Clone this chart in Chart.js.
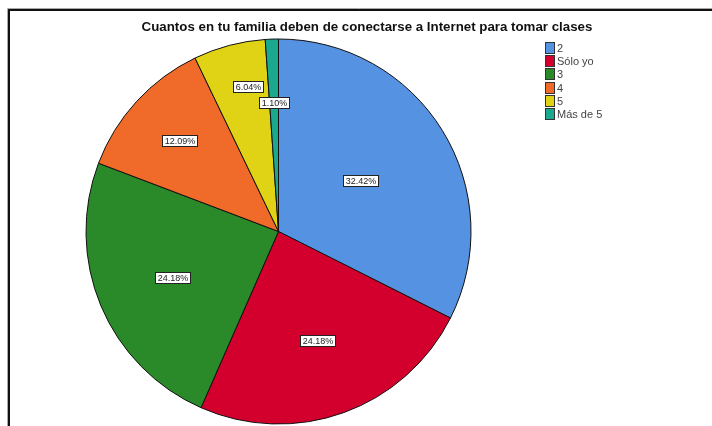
<!DOCTYPE html>
<html>
<head>
<meta charset="utf-8">
<script src="https://cdn.jsdelivr.net/npm/chart.js@4/dist/chart.umd.min.js"></script>
<style>
  html, body { margin: 0; padding: 0; background: #fff; }
  #wrap { width: 712px; height: 426px; position: relative; }
</style>
</head>
<body>
<div id="wrap"><canvas id="c" width="712" height="426"></canvas></div>
<script>
// Survey answers: how many family members need Internet for classes
const chartTitle = 'Cuantos en tu familia deben de conectarse a Internet para tomar clases';
const categories = ['2', 'Sólo yo', '3', '4', '5', 'Más de 5'];
const percents = [32.42, 24.18, 24.18, 12.09, 6.04, 1.10];

// Slice fills
const sliceColors = ['#5592e2', '#d3002e', '#2a8a2a', '#f06a2a', '#e0d214', '#1aa98f'];
// Where each value label sits: distance out (fraction of radius)
// and position across the slice (0 = start edge, 0.5 = middle, 1 = end edge)
const labelRadius = [0.50, 0.60, 0.60, 0.70, 0.77, 0.67];
const labelSweep = [0.5, 0.5, 0.49, 0.5, 0.64, 0.5];

const framePlugin = {
  id: 'frame',
  beforeDraw(chart) {
    const ctx = chart.ctx;
    ctx.save();
    ctx.fillStyle = '#fff';
    ctx.fillRect(0, 0, chart.width, chart.height);
    ctx.strokeStyle = '#aaa';
    ctx.lineWidth = 1;
    ctx.beginPath();
    ctx.moveTo(7.5, chart.height);
    ctx.lineTo(7.5, 8.5);
    ctx.lineTo(chart.width, 8.5);
    ctx.stroke();
    ctx.strokeStyle = '#111';
    ctx.lineWidth = 2;
    ctx.beginPath();
    ctx.moveTo(9, chart.height);
    ctx.lineTo(9, 10);
    ctx.lineTo(chart.width, 10);
    ctx.stroke();
    ctx.restore();
  }
};

const decorPlugin = {
  id: 'decor',
  afterDraw(chart) {
    const ctx = chart.ctx;
    ctx.save();

    // title
    ctx.fillStyle = '#111';
    ctx.font = 'bold 13.3px "Liberation Sans", Arial, sans-serif';
    ctx.textAlign = 'center';
    ctx.textBaseline = 'middle';
    ctx.fillText(chartTitle, 367, 27);

    // legend
    ctx.font = '11px "Liberation Sans", Arial, sans-serif';
    ctx.textAlign = 'left';
    categories.forEach((cat, i) => {
      const y = Math.round(48 + i * 13.2);
      ctx.fillStyle = sliceColors[i];
      ctx.fillRect(545, y - 6, 10, 12);
      ctx.strokeStyle = '#333';
      ctx.lineWidth = 1;
      ctx.strokeRect(545.5, y - 5.5, 9, 11);
      ctx.fillStyle = '#444';
      ctx.fillText(cat, 557, y + 0.5);
    });

    // value labels
    const meta = chart.getDatasetMeta(0);
    ctx.font = '9px "Liberation Sans", Arial, sans-serif';
    ctx.textAlign = 'center';
    meta.data.forEach((arc, i) => {
      const p = arc.getProps(['x', 'y', 'startAngle', 'endAngle', 'outerRadius'], true);
      const ang = p.startAngle + (p.endAngle - p.startAngle) * labelSweep[i];
      const r = p.outerRadius * labelRadius[i];
      const lx = p.x + Math.cos(ang) * r;
      const ly = p.y + Math.sin(ang) * r;
      const txt = percents[i].toFixed(2) + '%';
      const w = Math.ceil(ctx.measureText(txt).width) + 4;
      const h = 11;
      const bx = Math.round(lx - w / 2) + 0.5;
      const by = Math.round(ly - h / 2) + 0.5;
      ctx.fillStyle = '#fff';
      ctx.fillRect(bx, by, w, h);
      ctx.strokeStyle = '#222';
      ctx.lineWidth = 1;
      ctx.strokeRect(bx, by, w, h);
      ctx.fillStyle = '#222';
      ctx.fillText(txt, bx + w / 2, by + h / 2 + 0.5);
    });
    ctx.restore();
  }
};

new Chart(document.getElementById('c'), {
  type: 'pie',
  data: {
    labels: categories,
    datasets: [{
      data: percents,
      backgroundColor: sliceColors,
      borderColor: '#111',
      borderWidth: 1
    }]
  },
  options: {
    responsive: false,
    animation: false,
    rotation: 0,
    layout: { padding: { left: 85.5, right: 240.5, top: 38.5, bottom: 1.5 } },
    plugins: {
      legend: { display: false },
      title: { display: false },
      tooltip: { enabled: false }
    }
  },
  plugins: [framePlugin, decorPlugin]
});
</script>
</body>
</html>
